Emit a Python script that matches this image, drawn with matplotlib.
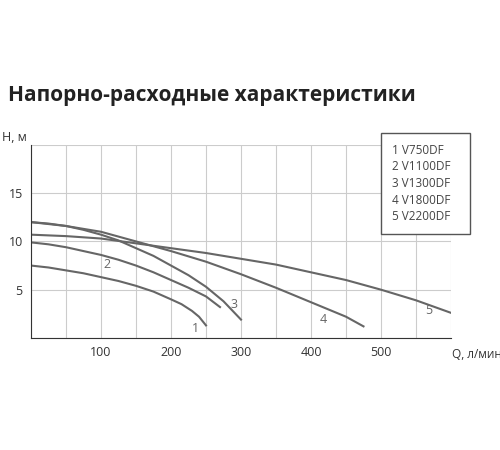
import numpy as np
import matplotlib.pyplot as plt

q1 = [0, 25, 50, 75, 100, 125, 150, 175, 200, 215, 230, 240, 250]
h1 = [7.5, 7.3, 7.0, 6.7, 6.3, 5.9, 5.4, 4.8, 4.0, 3.5, 2.8, 2.2, 1.3]
q2 = [0, 25, 50, 75, 100, 125, 150, 175, 200, 225, 250, 270]
h2 = [9.9, 9.7, 9.4, 9.0, 8.6, 8.1, 7.5, 6.8, 6.0, 5.2, 4.3, 3.2]
q3 = [0, 25, 50, 75, 100, 125, 150, 175, 200, 225, 250, 275, 300]
h3 = [12.0, 11.85, 11.6, 11.2, 10.7, 10.1, 9.3, 8.5, 7.5, 6.5, 5.3, 3.8, 1.9]
q4 = [0, 50, 100, 150, 200, 250, 300, 350, 400, 450, 475]
h4 = [12.0, 11.6, 11.0, 10.0, 9.0, 7.9, 6.6, 5.2, 3.7, 2.2, 1.2]
q5 = [0, 50, 100, 150, 200, 250, 300, 350, 400, 450, 500, 550, 600]
h5 = [10.7, 10.55, 10.3, 9.8, 9.3, 8.8, 8.2, 7.6, 6.8, 6.0, 5.0, 3.9, 2.6]
curves = [(q1, h1), (q2, h2), (q3, h3), (q4, h4), (q5, h5)]
label_pos = [(235, 1.0), (108, 7.6), (290, 3.5), (418, 1.9), (568, 2.8)]
models = ["V750DF", "V1100DF", "V1300DF", "V1800DF", "V2200DF"]

plt.rcParams['font.family'] = ['Open Sans', 'DejaVu Sans']
fig = plt.figure(figsize=(5, 4.5), dpi=100)
ax = fig.add_axes([0.062, 0.249, 0.84, 0.429])
col = '#666666'
for (q, h), (lx, ly), n in zip(curves, label_pos, range(1, 6)):
    ax.plot(q, h, color=col, lw=1.5, solid_joinstyle='round')
    ax.text(lx, ly, str(n), color=col, fontsize=9, ha='center', va='center')

ax.set_xlim(0, 600)
ax.set_ylim(0, 20)
ax.set_xticks(np.arange(0, 601, 50))
ax.set_xticklabels(['' if v % 100 or v in (0, 600) else str(v) for v in range(0, 601, 50)])
ax.set_yticks([0, 5, 10, 15, 20])
ax.set_yticklabels(['', '5', '10', '15', ''])
ax.grid(True, color='#cccccc', lw=0.8)
ax.tick_params(length=0, labelsize=9, colors='#333333', pad=6)
for s in ['top', 'right']:
    ax.spines[s].set_visible(False)
for s in ['left', 'bottom']:
    ax.spines[s].set_color('#333333')
fig.text(0.005, 0.68, 'H, м', fontsize=9, color='#333333', va='bottom')
fig.text(0.905, 0.205, 'Q, л/мин', fontsize=8.5, color='#333333')
fig.text(0.016, 0.775, 'Напорно-расходные характеристики', fontsize=15,
         fontweight='bold', color='#222222')

leg = "\n".join(f"{i} {m}   " for i, m in enumerate(models, 1))
fig.text(0.783, 0.68, leg, fontsize=8.5, color='#444444', va='top', linespacing=1.35,
         bbox=dict(boxstyle='square,pad=0.9', fc='white', ec='#555555', lw=1))
fig.savefig('out.png')
